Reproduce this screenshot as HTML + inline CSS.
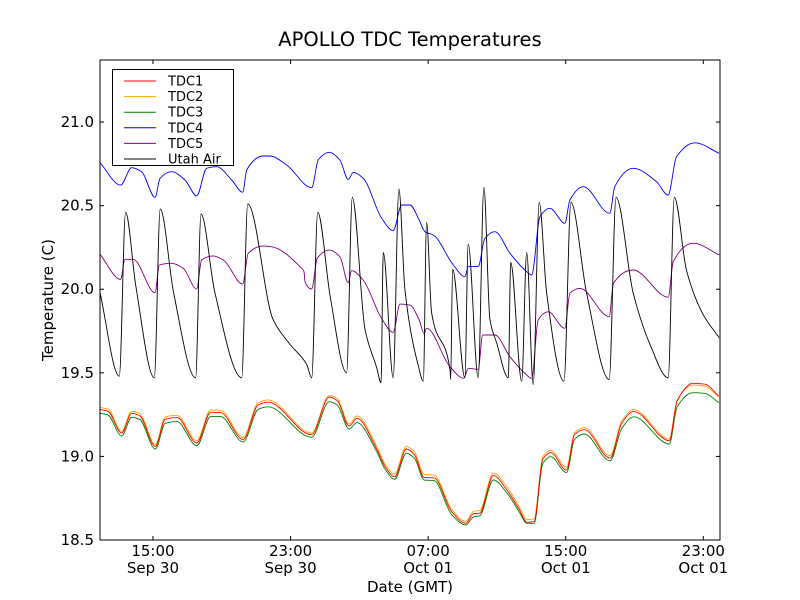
<!DOCTYPE html>
<html><head><meta charset="utf-8"><style>
body{margin:0;background:#fff;}
svg{display:block;font-family:"DejaVu Sans","Liberation Sans",sans-serif;}
</style></head><body>
<svg id="chart" width="800" height="600" viewBox="0 0 800 600">
<rect width="800" height="600" fill="#fff"/>
<text x="410" y="46" font-size="19.5" text-anchor="middle">APOLLO TDC Temperatures</text>
<g id="plot"></g>
<g id="axes"></g>
<text x="0" y="0" font-size="15" text-anchor="middle" transform="translate(53,300) rotate(-90)">Temperature (C)</text>
<text x="410" y="592" font-size="15" text-anchor="middle">Date (GMT)</text>
<g id="legend"></g>
</svg>
<script>
// hours since Sep 30 00:00 GMT
const tdcTimes=[11.92,12.38,13.18,13.76,14.22,15.14,15.71,16.40,17.55,18.35,18.93,20.24,21.12,21.69,24.22,25.25,25.72,26.40,26.86,28.01,28.47,29.05,29.73,30.20,30.77,31.34,32.38,33.19,33.65,33.99,34.79,35.60,36.29,36.74,37.16,37.67,38.13,39.05,39.51,40.08,41.58,42.26,42.95,45.02,45.48,46.40,47.09,47.90];
const tdc3=[19.258,19.248,19.122,19.234,19.222,19.044,19.198,19.208,19.064,19.238,19.238,19.086,19.282,19.297,19.114,19.327,19.307,19.164,19.202,19.028,18.929,18.863,19.019,18.989,18.859,18.855,18.650,18.590,18.639,18.644,18.859,18.779,18.669,18.600,18.600,18.959,18.998,18.903,19.102,19.134,18.974,19.168,19.237,19.074,19.297,19.381,19.377,19.321];
const tdc1=[19.280,19.270,19.140,19.258,19.244,19.060,19.222,19.232,19.080,19.264,19.262,19.102,19.308,19.324,19.130,19.355,19.333,19.182,19.228,19.044,18.945,18.878,19.045,19.010,18.874,18.872,18.668,18.600,18.658,18.660,18.885,18.796,18.684,18.606,18.610,18.985,19.022,18.918,19.130,19.160,18.990,19.200,19.268,19.094,19.332,19.437,19.432,19.360];
const tdc2=[19.292,19.284,19.150,19.270,19.258,19.070,19.236,19.246,19.094,19.278,19.276,19.114,19.322,19.338,19.140,19.365,19.346,19.194,19.242,19.060,18.960,18.895,19.060,19.028,18.892,18.888,18.682,18.612,18.672,18.676,18.900,18.816,18.700,18.622,18.626,19.000,19.036,18.934,19.142,19.172,19.004,19.212,19.280,19.104,19.338,19.427,19.420,19.355];
const tdc4Times=[11.92,13.12,13.76,14.34,15.12,15.41,16.09,16.86,17.54,18.12,18.70,19.58,20.22,20.45,21.41,21.80,22.77,24.23,24.61,25.25,25.87,26.35,26.65,27.23,28.30,28.97,29.46,29.94,30.48,30.81,31.30,32.46,33.14,33.33,33.91,34.30,34.88,35.76,36.73,37.02,37.50,38.08,38.95,39.24,40.02,41.56,41.85,42.92,44.28,44.95,45.44,46.51,47.92];
const tdc4=[20.757,20.623,20.727,20.703,20.550,20.663,20.703,20.653,20.559,20.723,20.733,20.653,20.580,20.713,20.797,20.797,20.743,20.607,20.773,20.819,20.773,20.657,20.699,20.663,20.424,20.350,20.504,20.504,20.414,20.344,20.324,20.145,20.075,20.135,20.135,20.304,20.344,20.215,20.105,20.085,20.434,20.484,20.394,20.533,20.613,20.454,20.613,20.723,20.643,20.563,20.792,20.876,20.813];
const tdc5Times=[11.92,13.12,13.37,13.85,15.12,15.37,16.09,16.76,17.54,17.83,18.51,19.09,20.22,20.54,21.41,21.90,23.55,23.78,23.84,24.23,24.55,25.25,25.87,26.35,26.55,27.22,28.29,28.97,29.36,29.94,30.48,30.76,30.91,32.27,33.08,33.33,33.91,34.17,34.88,35.76,36.63,37.02,37.40,37.98,38.95,39.24,39.83,41.53,41.77,42.92,44.96,45.25,46.41,47.92];
const tdc5=[20.209,20.059,20.179,20.179,19.979,20.145,20.155,20.125,20.001,20.175,20.199,20.175,20.031,20.215,20.258,20.254,20.135,20.105,20.045,20.001,20.185,20.234,20.194,20.039,20.111,20.055,19.826,19.742,19.911,19.905,19.816,19.736,19.766,19.536,19.467,19.527,19.521,19.726,19.726,19.596,19.497,19.467,19.816,19.865,19.766,19.976,20.005,19.836,20.035,20.115,19.952,20.164,20.275,20.205];
const airTimes=[11.92,13.04,13.41,14.0,15.08,15.42,16.2,17.48,17.79,18.6,20.16,20.51,21.98,22.97,23.94,24.23,24.58,25.3,26.26,26.59,27.33,28.01,28.26,28.39,28.97,29.30,29.65,30.41,30.72,30.91,31.20,32.27,32.31,32.42,33.14,33.33,33.91,34.24,34.59,34.98,35.66,35.80,36.44,36.73,37.11,37.46,37.89,38.90,39.30,40.21,41.53,41.92,42.92,43.90,44.96,45.31,46.03,46.98,47.92];
const air=[19.98,19.48,20.46,20.02,19.47,20.48,19.98,19.47,20.45,19.98,19.47,20.51,19.82,19.67,19.55,19.47,20.46,19.96,19.50,20.55,19.76,19.53,19.44,20.22,19.47,20.60,20.0,19.55,19.45,20.40,19.86,19.52,19.46,20.12,19.47,20.27,19.47,20.61,19.82,19.68,19.47,20.16,19.45,20.22,19.43,20.52,19.98,19.45,20.52,19.98,19.46,20.55,19.98,19.67,19.47,20.55,20.11,19.85,19.71];
const yTicks=[18.5,19.0,19.5,20.0,20.5,21.0];
const yTickLabels=["18.5","19.0","19.5","20.0","20.5","21.0"];
const xTicks=[15,23,31,39,47];
const xTickTimes=["15:00","23:00","07:00","15:00","23:00"];
const xTickDates=["Sep 30","Sep 30","Oct 01","Oct 01","Oct 01"];
const legendNames=["TDC1","TDC2","TDC3","TDC4","TDC5","Utah Air"];

const L=100,R=720,T=60,B=540,X0=11.92,X1=47.97,Y0=18.5,Y1=21.371;
const xs=h=>L+(h-X0)/(X1-X0)*(R-L);
const ys=v=>B-(v-Y0)/(Y1-Y0)*(B-T);
const NS="http://www.w3.org/2000/svg";
const mk=(tag,attrs,parent)=>{const e=document.createElementNS(NS,tag);for(const k in attrs)e.setAttribute(k,attrs[k]);parent.appendChild(e);return e;};
function monoPath(px,py){
 const n=px.length,dx=[],m=[],t=new Array(n);
 for(let i=0;i<n-1;i++){dx[i]=px[i+1]-px[i];m[i]=(py[i+1]-py[i])/dx[i];}
 t[0]=m[0];t[n-1]=m[n-2];
 for(let i=1;i<n-1;i++){t[i]=(m[i-1]*m[i]<=0)?0:3*(dx[i-1]+dx[i])/((2*dx[i]+dx[i-1])/m[i-1]+(dx[i]+2*dx[i-1])/m[i]);}
 let d='M'+px[0].toFixed(1)+','+py[0].toFixed(1);
 for(let i=0;i<n-1;i++){const h=dx[i]/3;
  d+='C'+(px[i]+h).toFixed(1)+','+(py[i]+t[i]*h).toFixed(1)+' '+(px[i+1]-h).toFixed(1)+','+(py[i+1]-t[i+1]*h).toFixed(1)+' '+px[i+1].toFixed(1)+','+py[i+1].toFixed(1);}
 return d;
}
const plot=document.getElementById('plot');
const axes=document.getElementById('axes');
const legend=document.getElementById('legend');
const series=[
 {t:tdc4Times,v:tdc4,c:"#0000ff",n:"tdc4-line"},
 {t:tdc5Times,v:tdc5,c:"#800080",n:"tdc5-line"},
 {t:airTimes,v:air,c:"#000000",n:"utah-air-line"},
 {t:tdcTimes,v:tdc3,c:"#008000",n:"tdc3-line"},
 {t:tdcTimes,v:tdc2,c:"#ffa500",n:"tdc2-line"},
 {t:tdcTimes,v:tdc1,c:"#ff0000",n:"tdc1-line"}
];
series.forEach(s=>{
 const d=monoPath(s.t.map(xs),s.v.map(ys));
 const p=mk('path',{d:d,fill:'none',stroke:s.c,'stroke-width':0.9,'stroke-linejoin':'round'},plot);
 
 
});
const frame=mk('rect',{x:L,y:T,width:R-L,height:B-T,fill:'none',stroke:'#000','stroke-width':1},axes);


yTicks.forEach((v,i)=>{
 const y=ys(v);
 mk('line',{x1:L,x2:L+4,y1:y,y2:y,stroke:'#000'},axes);
 mk('line',{x1:R-4,x2:R,y1:y,y2:y,stroke:'#000'},axes);
 const tx=mk('text',{x:L-6,y:y+5,'font-size':15,'text-anchor':'end'},axes);
 tx.textContent=yTickLabels[i];
 
 
});
xTicks.forEach((h,i)=>{
 const x=xs(h);
 mk('line',{x1:x,x2:x,y1:B,y2:B-4,stroke:'#000'},axes);
 mk('line',{x1:x,x2:x,y1:T,y2:T+4,stroke:'#000'},axes);
 const t1=mk('text',{x:x,y:556,'font-size':15,'text-anchor':'middle'},axes);
 t1.textContent=xTickTimes[i];
 
 
 const t2=mk('text',{x:x,y:573,'font-size':15,'text-anchor':'middle'},axes);
 t2.textContent=xTickDates[i];
 
 
});
const lb=mk('rect',{x:112.5,y:69.5,width:121,height:96,fill:'#fff',stroke:'#000','stroke-width':1},legend);


const lc=["#ff0000","#ffa500","#008000","#0000ff","#800080","#000000"];
legendNames.forEach((n,i)=>{
 const y=81+i*15.6;
 const ln=mk('line',{x1:124,x2:156,y1:y,y2:y,stroke:lc[i],'stroke-width':1},legend);
 
 
 const tx=mk('text',{x:168,y:y+4.5,'font-size':13},legend);
 tx.textContent=n;
 
 
});
</script>
</body></html>
